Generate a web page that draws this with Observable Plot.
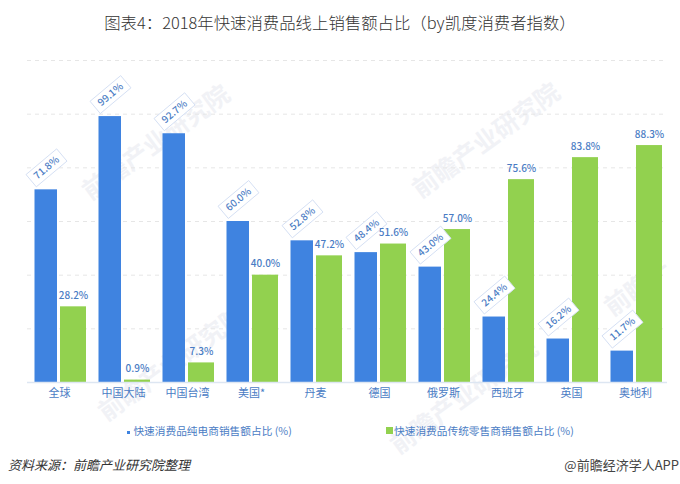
<!DOCTYPE html>
<html>
<head>
<meta charset="utf-8">
<script src="https://cdn.jsdelivr.net/npm/d3@7"></script>
<script src="https://cdn.jsdelivr.net/npm/@observablehq/plot@0.6"></script>
<style>
  body { margin: 0; background: #fff; font-family: "Noto Sans CJK SC", sans-serif; }
  #page { position: relative; width: 680px; height: 484px; overflow: hidden; }
  #title { height: 40px; line-height: 44px; text-align: center; font-size: 16.4px; font-weight: 300; color: #333; white-space: nowrap; }
  #chart { position: relative; height: 372px; }
  .wm { position: absolute; color: #f1f2f6; font-size: 25px; font-weight: 700; white-space: nowrap; transform: rotate(-36deg); transform-origin: left center; }
  .leg { position: absolute; top: 423px; font-size: 10.7px; line-height: 16px; color: #4a7cc4; white-space: nowrap; }
  .leg i { display: inline-block; vertical-align: 1px; margin-right: 1px; }
  #source { position: absolute; left: 8px; top: 456px; font-size: 13px; line-height: 18px; font-style: italic; color: #333; }
  #brand { position: absolute; right: 1px; top: 456px; font-size: 13px; line-height: 18px; color: #444; }
</style>
</head>
<body>
<div id="page">
  <div class="wm" style="left:84px;top:174px">前瞻产业研究院</div>
  <div class="wm" style="left:414px;top:172px">前瞻产业研究院</div>
  <div class="wm" style="left:606px;top:290px">前瞻产</div>
  <div class="wm" style="left:100px;top:395px">前瞻产业研究院</div>
  <div class="wm" style="left:392px;top:428px">前瞻产业研究院</div>
  <div id="title">图表4：2018年快速消费品线上销售额占比（by凯度消费者指数）</div>
  <div id="chart"></div>
  <div class="leg" style="left:127px"><i style="width:3px;height:3px;background:#3f83e0"></i> 快速消费品纯电商销售额占比 (%)</div>
  <div class="leg" style="left:386px"><i style="width:7px;height:7px;background:#92d14f"></i>快速消费品传统零售商销售额占比 (%)</div>
  <div id="source">资料来源：前瞻产业研究院整理</div>
  <div id="brand">@前瞻经济学人APP</div>
</div>
<script>
const regions = ['全球', '中国大陆', '中国台湾', '美国*', '丹麦', '德国', '俄罗斯', '西班牙', '英国', '奥地利']
const online = [71.8, 99.1, 92.7, 60.0, 52.8, 48.4, 43.0, 24.4, 16.2, 11.7]
const offline = [28.2, 0.9, 7.3, 40.0, 47.2, 51.6, 57.0, 75.6, 83.8, 88.3]
const gridTicks = [20, 40, 60, 80, 100, 120]

const blueData = regions.map((r, i) => ({ region: r, value: online[i] }))
const greenData = regions.map((r, i) => ({ region: r, value: offline[i] }))

// rotated label box behind the blue values
const tagBox = {
  draw(ctx, size) {
    const k = Math.sqrt(size / Math.PI) / 10
    const a = -40 * Math.PI / 180, w = 20 * k, h = 8 * k
    const pts = [[-w, -h], [w, -h], [w, h], [-w, h]]
      .map(([x, y]) => [x * Math.cos(a) - y * Math.sin(a), x * Math.sin(a) + y * Math.cos(a)])
    ctx.moveTo(pts[0][0], pts[0][1])
    pts.slice(1).forEach(p => ctx.lineTo(p[0], p[1]))
    ctx.closePath()
  }
}

const labelColor = '#4a7cc4'

const chart = Plot.plot({
  width: 680,
  height: 372,
  marginTop: 20,
  marginBottom: 30,
  marginLeft: 27,
  marginRight: 13,
  style: { background: 'transparent', fontFamily: '"Noto Sans CJK SC", sans-serif' },
  x: { domain: regions, padding: 0, label: null },
  y: { domain: [0, 120], axis: null, label: null },
  marks: [
    Plot.ruleY(gridTicks, { stroke: '#e6e6e6', strokeDasharray: '4,4' }),
    Plot.barY(blueData, { x: 'region', y: 'value', fill: '#3f83e0', insetLeft: 7.5, insetRight: 34 }),
    Plot.barY(greenData, { x: 'region', y: 'value', fill: '#92d14f', insetLeft: 33, insetRight: 5 }),
    Plot.ruleY([0], { stroke: '#dde6f2', strokeWidth: 1.5 }),
    Plot.axisX({ tickSize: 0, tickPadding: 7, fontSize: 11, fill: labelColor, label: null }),
    Plot.dot(blueData, {
      x: 'region', y: 'value', dx: -13, dy: -22, r: 10, symbol: tagBox,
      fill: '#fff', stroke: '#d5e0f4', strokeWidth: 1
    }),
    Plot.text(blueData, {
      x: 'region', y: 'value', dx: -13, dy: -22, rotate: -40,
      text: d => d.value.toFixed(1) + '%', fill: labelColor, fontSize: 10, fontWeight: 500
    }),
    Plot.text(greenData, {
      x: 'region', y: 'value', dx: 14, dy: -11,
      text: d => d.value.toFixed(1) + '%', fill: labelColor, fontSize: 10, fontWeight: 500
    })
  ]
})

d3.select('#chart').append(() => chart)
</script>
</body>
</html>
